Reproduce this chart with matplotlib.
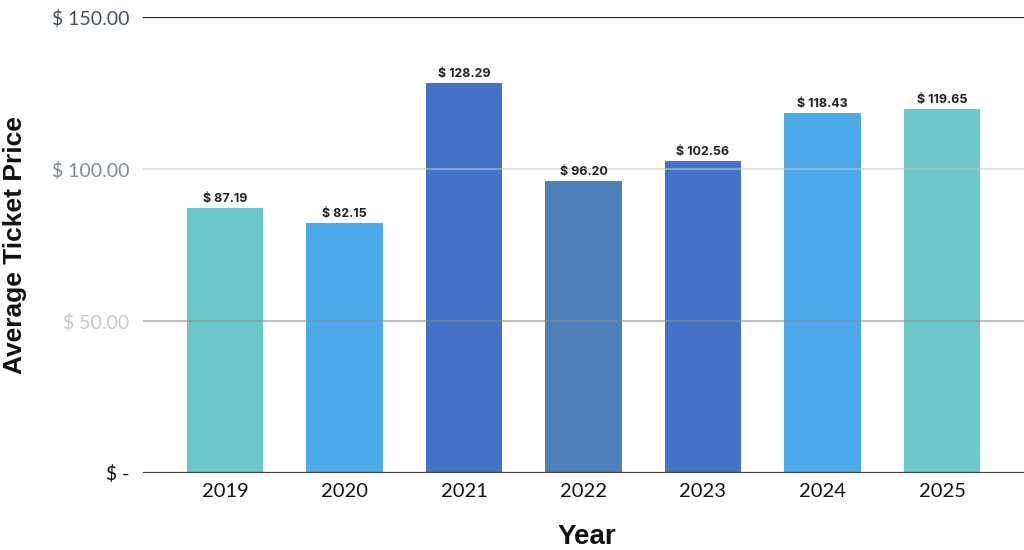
import matplotlib.pyplot as plt
import numpy as np

years = ["2019", "2020", "2021", "2022", "2023", "2024", "2025"]
prices = [87.19, 82.15, 128.29, 96.20, 102.56, 118.43, 119.65]
bar_colors = ["#6CC7CB", "#4DAAE8", "#4472C4", "#4F7FB8", "#4472C4", "#4DAAE8", "#6CC7CB"]
yticks = [0, 50, 100, 150]
ytick_labels = ["$ -", "$ 50.00", "$ 100.00", "$ 150.00"]
ytick_colors = ["#111111", "#c8c8c8", "#7d8b99", "#44505f"]
grid_colors = ["#444444", "#8a8a8a", "#c8c8c8", "#222222"]

fig = plt.figure(figsize=(10.24, 5.5), dpi=100)
ax = fig.add_axes([0.1396, 0.14, 0.8604, 0.829])

x = np.arange(len(years))
ax.bar(x, prices, width=0.64, color=bar_colors, zorder=1)

# horizontal lines drawn on top of the bars
for v, c in zip(yticks, grid_colors):
    lw = 1.6 if v in (0, 150) else 1.3
    alpha = 1.0 if v in (0, 150) else 0.6
    ax.axhline(v, color=c, lw=lw, alpha=alpha, zorder=3)

for xi, p in zip(x, prices):
    ax.text(xi, p + 1.0, "$ %.2f" % p, ha="center", va="bottom",
            fontsize=9, fontweight="bold", family="Inter", color="#222222")

ax.set_xlim(-0.686, 6.686)
ax.set_ylim(0, 150)
ax.set_yticks(yticks)
ax.set_yticklabels(ytick_labels, family="Lato", fontsize=14)
for lbl, c in zip(ax.get_yticklabels(), ytick_colors):
    lbl.set_color(c)
ax.set_xticks(x)
ax.set_xticklabels(years, family="Lato", fontsize=14.5, color="#111111")
ax.tick_params(axis="y", length=0, pad=10)
ax.tick_params(axis="x", length=0, pad=7)
for s in ax.spines.values():
    s.set_visible(False)

fig.text(0.003, 0.555, "Average Ticket Price", rotation=90, ha="left", va="center",
         family="Liberation Sans", fontweight="bold", fontsize=19, color="#111111")
fig.text(0.573, 0.0, "Year", ha="center", va="bottom",
         family="Liberation Sans", fontweight="bold", fontsize=20, color="#111111")

fig.savefig("out.png", dpi=100)
